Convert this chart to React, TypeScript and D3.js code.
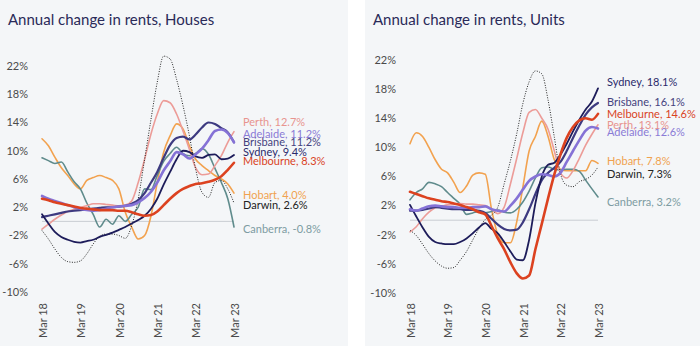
import React from "react";
import * as d3 from "d3";

// Two-monthly observations, Mar 2018 .. Mar 2023 (31 points)
const dates: Date[] = d3.range(31).map((i) => new Date(2018, 2 + 2 * i, 1));
const tickLabels = ["Mar 18", "Mar 19", "Mar 20", "Mar 21", "Mar 22", "Mar 23"];
const tickDates = [0, 1, 2, 3, 4, 5].map((k) => new Date(2018 + k, 2, 1));
const yTicks = [22, 18, 14, 10, 6, 2, -2, -6, -10];

const cities = ["Sydney", "Melbourne", "Brisbane", "Adelaide", "Perth", "Hobart", "Darwin", "Canberra"];

// Houses
const housesSydney = [1.0, -0.3, -1.5, -2.2, -2.6, -2.9, -3.0, -2.8, -2.6, -2.2, -1.9, -1.6, -1.2, -0.8, -0.3, 0.2, 0.8, 1.8, 3.2, 5.2, 7.0, 8.8, 10.0, 9.8, 9.2, 9.0, 9.4, 9.5, 8.8, 8.9, 9.4];
const housesMelbourne = [3.2, 3.0, 2.7, 2.5, 2.3, 2.1, 1.9, 1.8, 1.7, 1.6, 1.6, 1.6, 1.5, 1.5, 1.3, 1.0, 0.8, 0.9, 1.4, 2.3, 3.2, 4.0, 4.6, 5.0, 5.3, 5.4, 5.6, 5.9, 6.4, 7.3, 8.3];
const housesBrisbane = [0.6, 0.8, 1.0, 1.2, 1.4, 1.5, 1.6, 1.7, 1.8, 1.9, 2.0, 2.0, 2.1, 2.2, 2.5, 3.0, 4.0, 5.5, 7.0, 9.0, 10.8, 11.8, 12.0, 11.6, 12.3, 13.3, 14.0, 13.8, 13.2, 12.6, 11.2];
const housesAdelaide = [3.6, 3.2, 2.9, 2.6, 2.3, 2.0, 1.8, 1.6, 1.5, 1.6, 1.8, 2.0, 2.1, 2.2, 2.3, 2.7, 3.3, 4.2, 5.5, 7.2, 8.5, 9.8, 9.5, 8.9, 9.5, 10.3, 11.5, 12.8, 13.0, 12.5, 11.2];
const housesPerth = [-1.1, -0.4, 0.3, 0.9, 1.4, 1.7, 2.0, 2.2, 2.5, 2.5, 2.4, 2.3, 2.2, 2.3, 2.9, 5.5, 8.8, 12.4, 15.2, 17.1, 16.8, 15.2, 12.8, 10.2, 7.6, 6.6, 6.7, 7.9, 9.3, 11.2, 12.7];
const housesHobart = [11.7, 10.7, 9.1, 7.6, 6.5, 5.3, 4.6, 5.8, 6.2, 6.5, 6.2, 5.8, 4.6, 1.3, -0.8, -2.5, -2.0, 0.8, 5.5, 9.8, 12.1, 13.8, 13.1, 10.7, 8.8, 7.9, 7.2, 6.5, 6.0, 5.3, 4.0];
const housesDarwin = [-1.3, -2.5, -3.9, -5.1, -5.7, -5.8, -5.6, -4.6, -3.2, -2.1, -1.8, -1.8, -2.0, -2.4, -0.6, 3.2, 8.8, 14.5, 19.7, 23.4, 23.0, 20.1, 16.4, 12.1, 7.4, 4.1, 3.4, 5.5, 5.8, 4.6, 2.6];
const housesCanberra = [9.0, 8.6, 8.2, 8.4, 7.0, 5.6, 4.6, 2.6, 1.0, -0.8, 0.3, -0.4, 0.8, 0.0, 1.0, 2.0, 4.6, 4.5, 6.5, 8.5, 9.6, 10.5, 9.6, 9.3, 9.6, 10.3, 9.5, 7.5, 5.5, 3.2, -0.8];

// Units
const unitsSydney = [2.1, 0.5, -1.0, -2.3, -3.0, -3.2, -3.3, -3.3, -3.0, -2.5, -1.8, -1.0, -0.4, -1.2, -1.8, -3.0, -4.3, -5.4, -5.5, -2.7, 2.3, 6.0, 7.6, 7.9, 9.0, 10.5, 12.2, 13.8, 15.2, 16.3, 18.1];
const unitsMelbourne = [3.9, 3.6, 3.3, 3.0, 2.8, 2.6, 2.5, 2.3, 2.1, 1.8, 1.5, 1.1, 0.8, -0.8, -2.5, -4.0, -5.8, -7.3, -8.0, -7.6, -4.0, -0.5, 3.0, 6.3, 9.0, 11.3, 12.8, 13.7, 14.0, 13.8, 14.6];
const unitsBrisbane = [1.3, 1.3, 1.4, 1.6, 1.8, 1.7, 1.6, 1.5, 1.5, 1.4, 1.4, 1.3, 1.0, 0.2, -0.6, -1.2, -1.4, -1.3, -0.3, 1.5, 3.6, 5.5, 6.5, 7.2, 8.0, 9.5, 11.3, 13.0, 14.5, 15.5, 16.1];
const unitsAdelaide = [1.5, 1.3, 1.6, 1.9, 2.0, 1.9, 1.8, 1.8, 1.7, 1.7, 1.8, 1.8, 1.9, 1.5, 1.3, 1.2, 2.0, 3.0, 4.2, 5.4, 6.0, 6.3, 6.2, 6.0, 6.5, 8.0, 9.5, 11.0, 12.3, 12.8, 12.6];
const unitsPerth = [-1.6, -0.9, 0.2, 1.1, 1.7, 1.9, 2.1, 2.2, 2.3, 2.2, 2.2, 2.1, 2.0, 1.5, 0.9, 1.8, 5.0, 8.5, 12.0, 14.8, 15.2, 14.0, 12.5, 9.5, 6.5, 5.8, 6.8, 8.5, 10.3, 11.8, 13.1];
const unitsHobart = [10.5, 12.0, 11.5, 10.0, 8.3, 7.0, 6.5, 5.2, 3.8, 4.7, 6.2, 6.5, 6.3, 1.5, -2.0, -3.1, -3.1, -0.2, 4.5, 9.5, 11.5, 13.6, 11.5, 8.3, 7.0, 6.8, 6.8, 6.8, 6.8, 8.2, 7.8];
const unitsDarwin = [-1.4, -2.1, -3.3, -4.6, -5.6, -6.3, -6.6, -6.5, -5.5, -4.3, -2.7, -1.1, 0.1, 0.7, 1.8, 5.0, 8.2, 11.9, 16.0, 19.0, 20.5, 20.1, 16.5, 11.4, 6.4, 4.8, 4.6, 5.3, 5.6, 6.2, 7.3];
const unitsCanberra = [2.8, 3.8, 4.3, 5.2, 5.0, 4.6, 3.8, 3.0, 2.2, 0.8, 1.0, 1.2, 1.0, 1.2, 1.4, 1.1, 1.0, 1.5, 2.5, 4.0, 5.8, 7.2, 7.3, 7.0, 6.9, 7.0, 7.0, 6.7, 5.5, 4.3, 3.2];

type Style = { stroke: string; width: number; dash?: string; label: string };
const styles: Record<string, Style> = {
  Sydney: { stroke: "#1d1c5a", width: 1.8, label: "#2b2a6c" },
  Melbourne: { stroke: "#dc4220", width: 2.6, label: "#d9431f" },
  Brisbane: { stroke: "#3d3a80", width: 2.2, label: "#45427e" },
  Adelaide: { stroke: "#8572d6", width: 2.6, label: "#8a7bd6" },
  Perth: { stroke: "#ec9c98", width: 1.6, label: "#e8948f" },
  Hobart: { stroke: "#f2a24f", width: 1.6, label: "#f0a24f" },
  Darwin: { stroke: "#222222", width: 1, dash: "1,1.5", label: "#222222" },
  Canberra: { stroke: "#5f8b8c", width: 1.6, label: "#7d9ca2" },
};
const drawOrder = ["Hobart", "Canberra", "Perth", "Darwin", "Brisbane", "Sydney", "Adelaide", "Melbourne"];

const housesSeries: Record<string, number[]> = {
  Sydney: housesSydney, Melbourne: housesMelbourne, Brisbane: housesBrisbane, Adelaide: housesAdelaide,
  Perth: housesPerth, Hobart: housesHobart, Darwin: housesDarwin, Canberra: housesCanberra,
};
const unitsSeries: Record<string, number[]> = {
  Sydney: unitsSydney, Melbourne: unitsMelbourne, Brisbane: unitsBrisbane, Adelaide: unitsAdelaide,
  Perth: unitsPerth, Hobart: unitsHobart, Darwin: unitsDarwin, Canberra: unitsCanberra,
};
const housesNudge: Record<string, number> = { Perth: -10, Adelaide: -8, Brisbane: 0, Sydney: -3, Melbourne: -2, Hobart: 2, Darwin: 2, Canberra: 2 };
const unitsNudge: Record<string, number> = { Sydney: -6, Brisbane: -1, Melbourne: 0, Perth: 0, Adelaide: 4, Hobart: -2, Darwin: 7, Canberra: 5 };

const axisFont = "Lato, 'Open Sans', sans-serif";
const labelFont = "Lato, 'Noto Sans', sans-serif";

type PanelProps = {
  title: string;
  titleX: number;
  series: Record<string, number[]>;
  nudge: Record<string, number>;
  x0: number; x1: number;
  yTop: number; yBottom: number;
  labelRight: number;
};

function Panel(p: PanelProps) {
  const x = d3.scaleTime().domain([dates[0], dates[dates.length - 1]]).range([p.x0, p.x1]);
  const y = d3.scaleLinear().domain([22, -10]).range([p.yTop, p.yBottom]);
  const line = d3.line<number>().x((_, i) => x(dates[i])).y((v) => y(v)).curve(d3.curveMonotoneX);
  return (
    <g>
      <text x={p.titleX} y={25} fontFamily={axisFont} fontSize={15} fill="#2a2a58">{p.title}</text>
      {yTicks.map((t) => (
        <text key={t} x={p.labelRight} y={y(t)} dy="0.35em" textAnchor="end" fontFamily={axisFont} fontSize={11} fill="#4a4a4a">{t}%</text>
      ))}
      {tickDates.map((d, i) => (
        <text key={i} transform={`translate(${x(d) + 1},303) rotate(-90)`} textAnchor="end" dy="0.35em" fontFamily={axisFont} fontSize={11} fill="#4a4a4a">{tickLabels[i]}</text>
      ))}
      <line x1={p.x0} x2={p.x1} y1={y(0)} y2={y(0)} stroke="#c9cdd2" strokeWidth={1} />
      {drawOrder.map((c) => (
        <path key={c} d={line(p.series[c]) || ""} fill="none" stroke={styles[c].stroke} strokeWidth={styles[c].width}
          strokeDasharray={styles[c].dash} strokeLinejoin="round" strokeLinecap={styles[c].dash ? "butt" : "round"} />
      ))}
      {cities.map((c) => {
        const vals = p.series[c];
        const last = vals[vals.length - 1];
        return (
          <text key={c} x={p.x1 + 9} y={y(last) + p.nudge[c]} dy="0.35em" fontFamily={labelFont} fontSize={11} fill={styles[c].label}>
            {`${c}, ${last.toFixed(1)}%`}
          </text>
        );
      })}
    </g>
  );
}

export default function App() {
  return (
    <div style={{ position: "fixed", left: 0, top: 0, width: 700, height: 355, background: "#ffffff" }}>
      <svg width={700} height={355} style={{ display: "block" }}>
        <rect x={0} y={0} width={700} height={355} fill="#ffffff" />
        <rect x={0} y={0} width={348} height={346} fill="#f4f6f8" />
        <rect x={365} y={0} width={335} height={346} fill="#f4f6f8" />
        <Panel title="Annual change in rents, Houses" titleX={8} series={housesSeries} nudge={housesNudge}
          x0={42} x1={234} yTop={66} yBottom={292} labelRight={28} />
        <Panel title="Annual change in rents, Units" titleX={373} series={unitsSeries} nudge={unitsNudge}
          x0={410} x1={598} yTop={60} yBottom={293} labelRight={396} />
      </svg>
    </div>
  );
}
